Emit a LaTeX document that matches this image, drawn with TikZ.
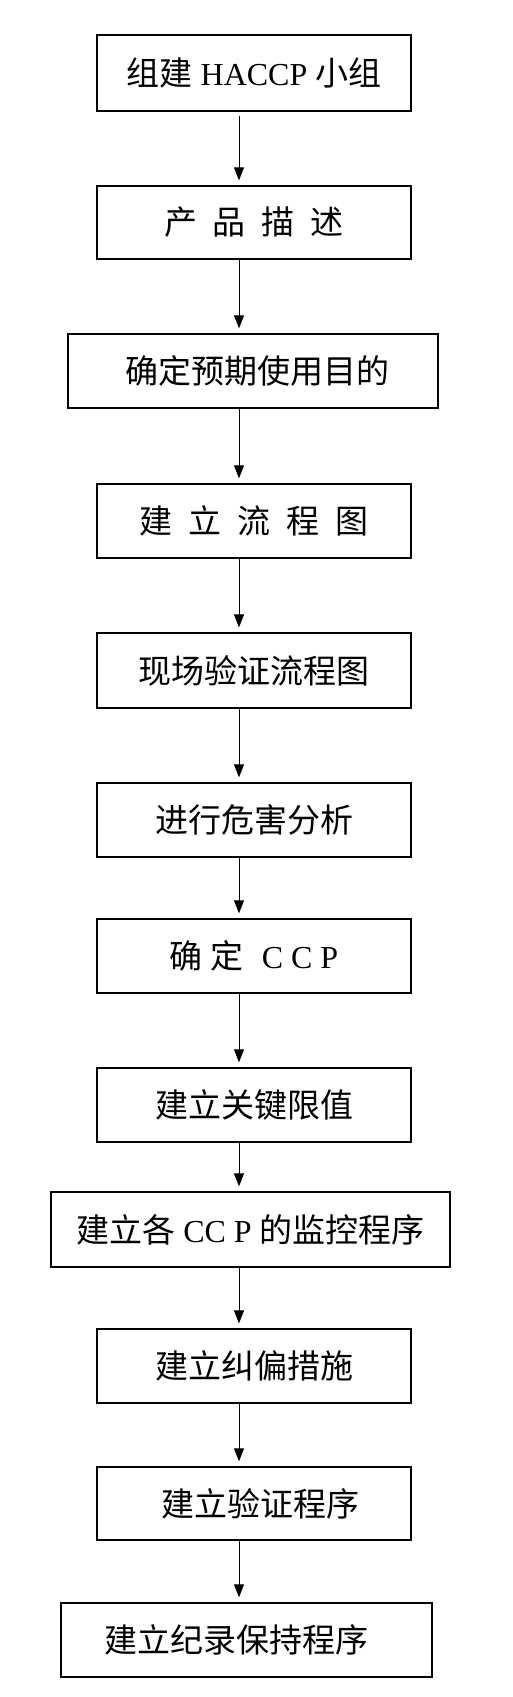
\documentclass[tikz,border=0pt]{standalone}
\usepackage{fontspec}
\setmainfont{Liberation Serif}
\newfontfamily\cjk{Noto Sans CJK SC}
\usetikzlibrary{arrows.meta}
\tikzset{
  box/.style={draw=black, line width=1.3pt, rectangle, minimum width=314pt, inner sep=0pt, font=\fontsize{33pt}{36pt}\selectfont},
  flow/.style={line width=0.9pt, -{Triangle[length=13pt,width=10pt]}, shorten >=5pt}
}
\newcommand{\gap}{\hspace{16pt}}
\newcommand{\lat}[1]{{\fontsize{32pt}{36pt}\selectfont #1}}
\begin{document}
\begin{tikzpicture}[x=1pt,y=-1pt]
\useasboundingbox (0,0) rectangle (513,1697);
\node[box, minimum height=76pt] (b1) at (254,73) {{\cjk 组建} \lat{HACCP} {\cjk 小组}};
\node[box, minimum height=73pt] (b2) at (254,222.5) {\cjk 产\gap 品\gap 描\gap 述};
\node[box, minimum width=370pt, minimum height=74pt] (b3) at (253,371) {\hspace{8pt}\cjk 确定预期使用目的};
\node[box, minimum height=74pt] (b4) at (254,521) {\cjk 建\gap 立\gap 流\gap 程\gap 图};
\node[box, minimum height=75pt] (b5) at (254,670.5) {\cjk 现场验证流程图};
\node[box, minimum height=74pt] (b6) at (254,820) {\cjk 进行危害分析};
\node[box, minimum height=74pt] (b7) at (254,956) {{\cjk 确\hspace{8pt}定}\hspace{18pt}\lat{C\hspace{8pt}C\hspace{8pt}P}};
\node[box, minimum height=74pt] (b8) at (254,1105) {\cjk 建立关键限值};
\node[box, minimum width=399pt, minimum height=75pt] (b9) at (250.5,1229.5) {{\cjk 建立各} \lat{CC P} {\cjk 的监控程序}};
\node[box, minimum height=74pt] (b10) at (254,1366) {\cjk 建立纠偏措施};
\node[box, minimum height=73pt] (b11) at (254,1503.5) {\hspace{12pt}\cjk 建立验证程序};
\node[box, minimum width=371pt, minimum height=74pt] (b12) at (246.5,1640) {\cjk 建立纪录保持程序\kern20pt};
\coordinate (ax) at (239,0);
\draw[flow, shorten <=4pt] (b1.south -| ax) -- (b2.north -| ax);
\draw[flow] (b2.south -| ax) -- (b3.north -| ax);
\draw[flow] (b3.south -| ax) -- (b4.north -| ax);
\draw[flow] (b4.south -| ax) -- (b5.north -| ax);
\draw[flow] (b5.south -| ax) -- (b6.north -| ax);
\draw[flow] (b6.south -| ax) -- (b7.north -| ax);
\draw[flow] (b7.south -| ax) -- (b8.north -| ax);
\draw[flow] (b8.south -| ax) -- (b9.north -| ax);
\draw[flow] (b9.south -| ax) -- (b10.north -| ax);
\draw[flow] (b10.south -| ax) -- (b11.north -| ax);
\draw[flow] (b11.south -| ax) -- (b12.north -| ax);
\end{tikzpicture}
\end{document}
